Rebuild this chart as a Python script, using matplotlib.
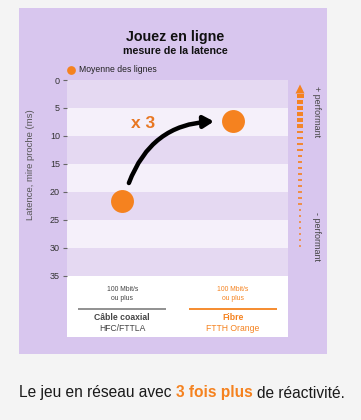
import matplotlib
matplotlib.use("Agg")
import matplotlib.pyplot as plt
from matplotlib.patches import Rectangle, Polygon
import numpy as np

plt.rcParams['font.family'] = ['Liberation Sans', 'DejaVu Sans']

# ---- data ----
categories = ["Câble coaxial\nHFC/FTTLA", "Fibre\nFTTH Orange"]
speed_labels = ["100 Mbit/s\nou plus", "100 Mbit/s\nou plus"]
latency = [21.6, 7.4]
yticks = [0, 5, 10, 15, 20, 25, 30, 35]
title = "Jouez en ligne"
subtitle = "mesure de la latence"
legend_label = "Moyenne des lignes"
ylabel = "Latence, mire proche (ms)"
factor_label = "x 3"

ORANGE = '#f5821f'
PANEL = '#d8c6ee'
BAND_DARK = '#e5d9f2'
BAND_LIGHT = '#f5f0fa'
GREY_TXT = '#555555'

W, H = 361, 420
fig = plt.figure(figsize=(W/100, H/100), dpi=100, facecolor='#f4f4f4')

# background axes for purple panel
bg = fig.add_axes([0, 0, 1, 1], facecolor='none', zorder=0)
bg.set_xlim(0, W)
bg.set_ylim(H, 0)
bg.axis('off')
bg.add_patch(Rectangle((19, 8), 327-19, 346, facecolor=PANEL, edgecolor='none'))

ax = fig.add_axes([67/W, 1-337/H, 221/W, 257/H], zorder=1)
ax.set_facecolor('white')
ymax = 45.9
ax.set_ylim(ymax, 0)
ax.set_xlim(-0.5, 1.5)
for i, lo in enumerate(range(0, 35, 5)):
    ax.axhspan(lo, lo+5, color=BAND_DARK if i % 2 == 0 else BAND_LIGHT, lw=0, zorder=0)
for s in ax.spines.values():
    s.set_visible(False)
ax.set_xticks([])
ax.set_yticks(yticks)
ax.tick_params(axis='y', length=3, width=0.8, color='#666666', labelsize=6.5,
               labelcolor='#333333', pad=2)
ax.set_ylabel(ylabel, fontsize=6.8, color=GREY_TXT)
ax.yaxis.set_label_coords(-0.145, 0.669)

ax.plot([0, 1], latency, 'o', color=ORANGE, markersize=16.5, zorder=5,
        markeredgewidth=0)

# curved arrow
ax.annotate("", xy=(0.83, latency[1]), xytext=(0.06, latency[0]-3.2),
            arrowprops=dict(arrowstyle="-|>,head_length=0.6,head_width=0.35",
                            connectionstyle="arc3,rad=-0.33", lw=3.2,
                            color='black', shrinkA=0, shrinkB=0), zorder=4)
ax.text(0.19, latency[1]+0.3, factor_label, color='#e87722', fontsize=12.5,
        fontweight='bold', ha='center', va='center')

# category labels in white area
for i, (cat, sp) in enumerate(zip(categories, speed_labels)):
    col = ORANGE if i == 1 else '#444444'
    ax.text(i, 38.2, sp, ha='center', va='center', fontsize=4.9,
            color=col, linespacing=1.35)
    ax.plot([i-0.4, i+0.4], [40.9, 40.9], color='#888888' if i == 0 else ORANGE,
            lw=1.3, solid_capstyle='butt')
    c1, c2 = cat.split("\n")
    ax.text(i, 42.5, c1, ha='center', va='center', fontsize=6.2,
            fontweight='bold', color=col)
    ax.text(i, 44.3, c2, ha='center', va='center', fontsize=6.2, color=col)

over = fig.add_axes([0, 0, 1, 1], facecolor='none', zorder=2)
over.set_xlim(0, W)
over.set_ylim(H, 0)
over.axis('off')

# titles & legend
over.text(175, 37, title, ha='center', va='center', fontsize=10.3,
          fontweight='bold', color='#111111')
over.text(175, 51, subtitle, ha='center', va='center', fontsize=7.7,
          fontweight='bold', color='#111111')
over.plot([71], [69.5], 'o', color=ORANGE, markersize=6.3, markeredgewidth=0)
over.text(79, 69.5, legend_label, fontsize=6.2, va='center', ha='left', color='#222222')

# right-side tapered dashed arrow
over.add_patch(Polygon([[300, 84.5], [295.5, 93.5], [304.5, 93.5]], closed=True,
                       facecolor=ORANGE, edgecolor='none'))
n = 26
ys = np.linspace(96, 246, n)
for k, yy in enumerate(ys):
    t = k / (n - 1)
    w = 7.0 - 5.5 * t
    h = 3.4 - 1.8 * t
    over.add_patch(Rectangle((300 - w/2, yy - h/2), w, h, facecolor=ORANGE,
                             edgecolor='none', alpha=1 - 0.3 * t))
over.text(317, 86, "+ performant", rotation=-90, fontsize=6.5, ha='center',
          va='top', color='#444444')
over.text(317, 212, "- performant", rotation=-90, fontsize=6.5, ha='center',
          va='top', color='#444444')

# caption
fig.canvas.draw()
r = fig.canvas.get_renderer()
parts = [("Le jeu en réseau avec", '#1a1a1a', 'normal'),
         ("3 fois plus", ORANGE, 'bold'),
         ("de réactivité.", '#1a1a1a', 'normal')]
fs = 11.2
space_px = 0.278 * fs * 100 / 72
cx = 19
for txt, col, wgt in parts:
    t = over.text(cx, 393, txt, fontsize=fs, color=col, fontweight=wgt,
                  ha='left', va='center')
    bb = t.get_window_extent(renderer=r)
    cx += bb.width + space_px

fig.savefig("out.png", dpi=100, facecolor=fig.get_facecolor())
